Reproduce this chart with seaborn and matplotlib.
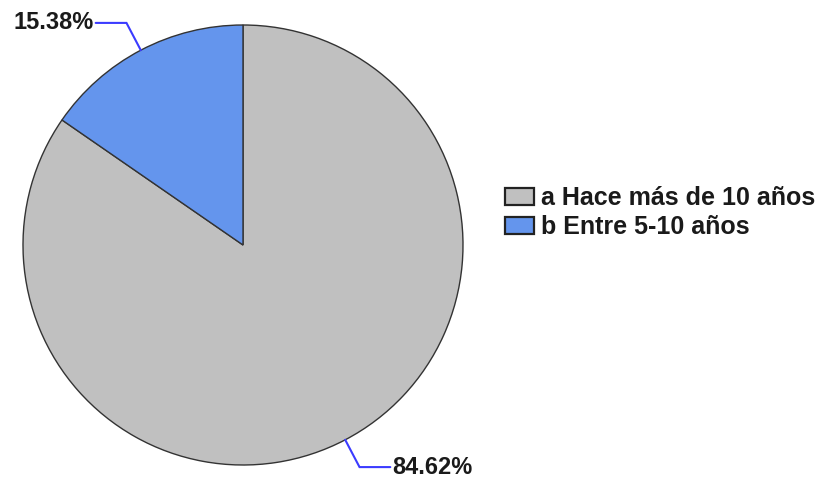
import numpy as np
import matplotlib
matplotlib.use("Agg")
import matplotlib.pyplot as plt
import seaborn as sns

categories = ["a Hace más de 10 años", "b Entre 5-10 años"]
values = [84.62, 15.38]
labels = ["84.62%", "15.38%"]
colors = ["#C0C0C0", "#6495ED"]

sns.set_theme(style="white")
plt.rcParams["font.family"] = ["Liberation Sans", "DejaVu Sans"]

W, H = 824, 478
fig = plt.figure(figsize=(W / 100, H / 100), dpi=100)
# pie area in pixels: x 23..463, y 25..465
ax = fig.add_axes([23 / W, (H - 465) / H, 440 / W, 440 / H])
wedges, _ = ax.pie(values, colors=colors, startangle=90, counterclock=False,
                   radius=1.0,
                   wedgeprops=dict(edgecolor="#333333", linewidth=1.0))
ax.set_xlim(-1, 1)
ax.set_ylim(-1, 1)
ax.set_aspect("equal")
ax.axis("off")

for w, lab in zip(wedges, labels):
    ang = np.deg2rad((w.theta1 + w.theta2) / 2)
    x0, y0 = np.cos(ang), np.sin(ang)
    r2 = 1.0 + 0.14
    x1, y1 = r2 * x0, r2 * y0
    side = np.sign(x0)
    x2 = x1 + side * 0.14
    ax.plot([x0, x1, x2], [y0, y1, y1], color="#3B3BFF", lw=1.5,
            clip_on=False, solid_joinstyle="miter")
    ax.text(x2 + side * 0.01, y1, lab, ha="left" if side > 0 else "right",
            va="center", fontsize=17, fontweight="bold", color="#1a1a1a",
            clip_on=False)

leg = fig.legend(wedges, categories, loc="upper left",
                 bbox_to_anchor=(505 / W, 1 - 186 / H), frameon=False,
                 prop=dict(size=18, weight="bold"),
                 handlelength=1.15, handleheight=0.68, handletextpad=0.3,
                 labelspacing=0.2, borderaxespad=0, borderpad=0)
for t in leg.get_texts():
    t.set_color("#1a1a1a")
for p in leg.get_patches():
    p.set_edgecolor("#222222")
    p.set_linewidth(1.6)

fig.savefig("out.png", dpi=100)
